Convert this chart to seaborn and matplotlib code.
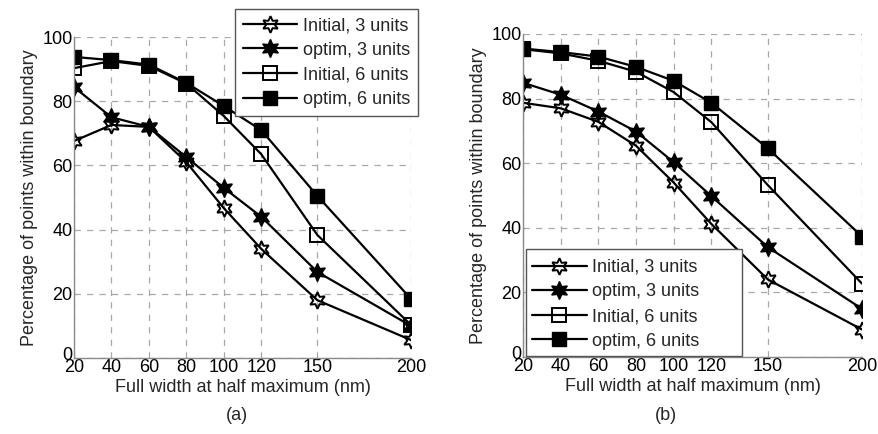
import matplotlib
matplotlib.use("Agg")
import matplotlib.pyplot as plt
import matplotlib.transforms as mtransforms
from matplotlib.patches import Rectangle
import seaborn as sns
import numpy as np

fwhm = [20, 40, 60, 80, 100, 120, 150, 200]
xtick_labels = ["20", "40", "60", "80", "100", "120", "150", "200"]
series_names = ["Initial, 3 units", "optim, 3 units", "Initial, 6 units", "optim, 6 units"]

# panel (a)
a_init3 = [67.6, 72.6, 72.0, 61.0, 46.7, 34.0, 18.0, 5.6]
a_opt3 = [84.4, 75.0, 72.0, 62.6, 53.0, 44.0, 26.8, 10.0]
a_init6 = [90.3, 92.5, 91.0, 85.5, 75.4, 63.5, 38.3, 10.3]
a_opt6 = [93.8, 92.8, 91.4, 85.7, 78.5, 71.0, 50.5, 18.4]

# panel (b)
b_init3 = [78.7, 77.0, 72.8, 65.4, 54.0, 41.2, 24.0, 8.5]
b_opt3 = [84.9, 81.2, 76.0, 69.8, 60.3, 49.8, 34.0, 14.9]
b_init6 = [95.3, 94.0, 91.7, 88.3, 82.0, 72.7, 53.2, 22.7]
b_opt6 = [95.5, 94.4, 93.0, 89.8, 85.5, 78.7, 64.6, 37.3]

sns.set_style("whitegrid")
plt.rcParams["font.family"] = ["Liberation Sans", "DejaVu Sans"]

FS = 13
W, H = 879, 434

fig = plt.figure(figsize=(8.79, 4.34), dpi=100)
axa = fig.add_axes([0.0842, 0.1751, 0.3834, 0.7396])
axb = fig.add_axes([0.5950, 0.1774, 0.3857, 0.7443])

styles = [
    dict(marker=(6, 1, 0), markersize=12, mfc="none", mec="black", mew=1.4),
    dict(marker=(6, 1, 0), markersize=13, mfc="black", mec="black", mew=1.0),
    dict(marker="s", markersize=9.5, mfc="none", mec="black", mew=1.4),
    dict(marker="s", markersize=9.5, mfc="black", mec="black", mew=1.0),
]

def draw(ax, data):
    for name, vals, st in zip(series_names, data, styles):
        sns.lineplot(x=fwhm, y=vals, ax=ax, color="black", linewidth=1.6,
                     label=name, **st)
    ax.set_xlim(20, 200)
    ax.set_ylim(0, 100)
    ax.set_xticks(fwhm)
    ax.set_xticklabels(xtick_labels)
    ax.set_yticks([0, 20, 40, 60, 80, 100])
    ax.grid(True, color="#a8a8a8", linestyle=(0, (5, 5)), linewidth=0.9)
    for s in ["top", "right"]:
        ax.spines[s].set_visible(False)
    for s in ["left", "bottom"]:
        ax.spines[s].set_color("#8a8a8a")
        ax.spines[s].set_linewidth(1.0)
    ax.tick_params(axis="both", length=0, labelsize=FS, pad=1, colors="black")
    ax.set_xlabel("Full width at half maximum (nm)", fontsize=FS, labelpad=2)
    ax.set_ylabel("Percentage of points within boundary", fontsize=FS, labelpad=3)
    # nudge the y "0" label up a little, as in the reference
    lab0 = ax.get_yticklabels()[0]
    lab0.set_transform(lab0.get_transform() +
                       mtransforms.ScaledTranslation(0, 5 / 100, fig.dpi_scale_trans))

draw(axa, [a_init3, a_opt3, a_init6, a_opt6])
draw(axb, [b_init3, b_opt3, b_init6, b_opt6])

leg_kw = dict(fontsize=FS, fancybox=False, edgecolor="#555555",
              handlelength=3.0, handletextpad=0.3, labelspacing=0.42,
              borderaxespad=0.0)
la = axa.legend(loc="upper right", bbox_to_anchor=(418 / W, 1 - 9 / H),
                bbox_transform=fig.transFigure, frameon=True, borderpad=0.45,
                **leg_kw)
la.get_frame().set_linewidth(1.0)
la.get_frame().set_alpha(1)

lb = axb.legend(loc="lower left", bbox_to_anchor=(527 / W, 1 - 355 / H),
                bbox_transform=fig.transFigure, frameon=False, borderpad=0.3,
                **leg_kw)
box = Rectangle((526 / W, 1 - 356 / H), (742 - 526) / W, (356 - 249) / H,
                transform=fig.transFigure, facecolor="white",
                edgecolor="#555555", linewidth=1.0, zorder=4, clip_on=False)
axb.add_patch(box)
lb.set_zorder(5)

fig.text(237 / W, 1 - 415 / H, "(a)", ha="center", va="center", fontsize=FS)
fig.text(666 / W, 1 - 415 / H, "(b)", ha="center", va="center", fontsize=FS)

fig.savefig("out.png", dpi=100)
